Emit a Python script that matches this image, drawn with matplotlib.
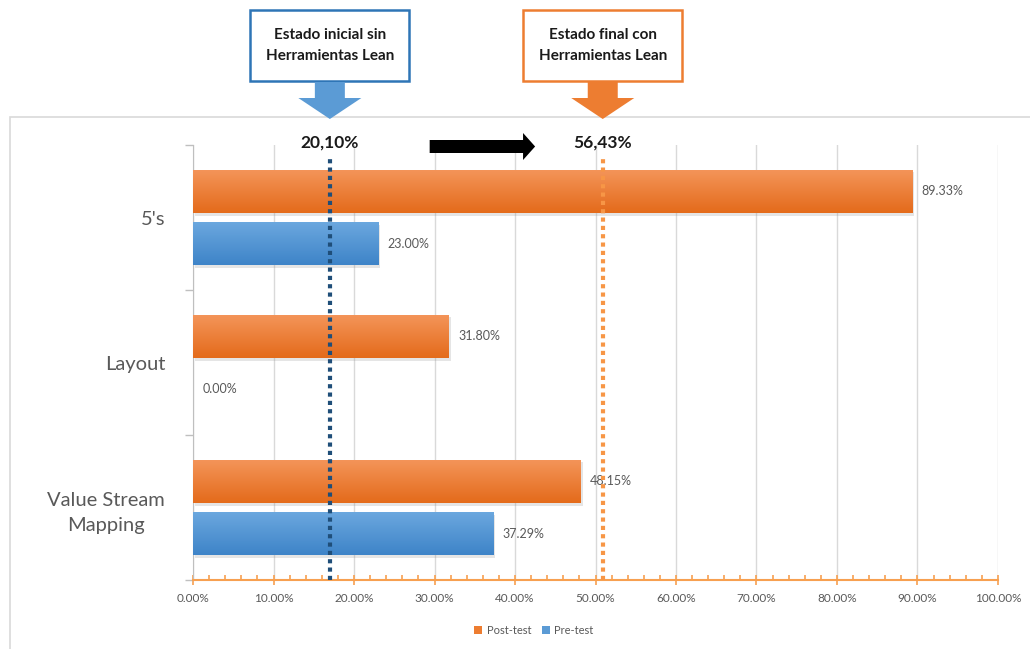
"""
Lean tools: pre-test vs post-test scores per tool.
"""

import matplotlib
matplotlib.use("Agg")
import matplotlib.pyplot as plt
import matplotlib.patheffects as pe
import matplotlib.transforms as mtrans
from matplotlib.colors import LinearSegmentedColormap
from matplotlib.patches import Rectangle, Polygon, Patch
import numpy as np

plt.rcParams["font.family"] = ["Lato", "DejaVu Sans"]

# data
categories = ["5's", "Layout", "Value Stream\nMapping"]
pre_test = [23.00, 0.00, 37.29]
post_test = [89.33, 31.80, 48.15]
x_ticks = [0, 10, 20, 30, 40, 50, 60, 70, 80, 90, 100]
tick_labels = ["0.00%", "10.00%", "20.00%", "30.00%", "40.00%", "50.00%",
               "60.00%", "70.00%", "80.00%", "90.00%", "100.00%"]
initial_line = 17.0
final_line = 50.9
initial_label = "20,10%"
final_label = "56,43%"
initial_box = "Estado inicial sin\nHerramientas Lean"
final_box = "Estado final con\nHerramientas Lean"

W, H = 1030, 649
ORANGE = "#ED7D31"
BLUE = "#5B9BD5"
GRAY_TXT = "#595959"


def fy(py):
    # pixel row -> figure fraction
    return 1 - py / H


def gradient_bars(ax, y, widths, top_col, bot_col, base_col):
    cmap = LinearSegmentedColormap.from_list("g", [top_col, bot_col])
    grad = np.linspace(0, 1, 64).reshape(-1, 1)
    bars = ax.barh(y, widths, height=0.3, color=base_col, zorder=3,
                   path_effects=[pe.SimplePatchShadow(offset=(1.5, -2), shadow_rgbFace="#8c8c8c", alpha=0.22),
                                 pe.Normal()])
    for b in bars:
        if b.get_width() <= 0:
            continue
        x0, y0 = b.get_x(), b.get_y()
        im = ax.imshow(grad, cmap=cmap, aspect="auto", zorder=4,
                       extent=(x0, x0 + b.get_width(), y0 + b.get_height(), y0),
                       origin="upper", interpolation="bicubic")
        im.set_clip_path(b)
    return bars


fig = plt.figure(figsize=(W / 100, H / 100), dpi=100)
ax = fig.add_axes([193 / W, fy(580), 805 / W, 435 / H])

ypos = np.arange(len(categories))
gradient_bars(ax, ypos - 0.18, post_test, "#F4955A", "#E46B1B", ORANGE)
gradient_bars(ax, ypos + 0.18, pre_test, "#6CA8DF", "#3E84C8", BLUE)

for i in range(len(categories)):
    ax.text(post_test[i] + 1.2, ypos[i] - 0.18, f"{post_test[i]:.2f}%", va="center",
            ha="left", fontsize=9, color=GRAY_TXT, zorder=5)
    ax.text(pre_test[i] + 1.2, ypos[i] + 0.18, f"{pre_test[i]:.2f}%", va="center",
            ha="left", fontsize=9, color=GRAY_TXT, zorder=5)

ax.set_xlim(0, 100)
ax.set_ylim(2.5, -0.5)
ax.set_xticks(x_ticks)
ax.set_xticklabels(tick_labels, fontsize=8.5, color=GRAY_TXT)
ax.set_xticks(np.arange(0, 101, 2), minor=True)
ax.set_yticks(ypos)
ax.set_yticklabels(categories, fontsize=14.5, color=GRAY_TXT, multialignment="center",
                   linespacing=1.55)
ax.set_yticks([-0.5, 0.5, 1.5, 2.5], minor=True)

ax.tick_params(axis="y", which="major", length=0, pad=20)
ax.tick_params(axis="y", which="minor", length=6, color="#BFBFBF", width=1)
ax.tick_params(axis="x", which="major", direction="inout", length=7, color="#F7A050", width=1.2, pad=6)
ax.tick_params(axis="x", which="minor", direction="in", length=3.5, color="#F7A050", width=1.2)

ax.grid(axis="x", color="#D9D9D9", linewidth=1, zorder=0)
ax.set_axisbelow(True)
for s in ["top", "right"]:
    ax.spines[s].set_visible(False)
ax.spines["left"].set_color("#BFBFBF")
ax.spines["bottom"].set_color("#F7A050")
ax.spines["bottom"].set_linewidth(1.5)

# reference lines
ax.axvline(initial_line, ymin=0, ymax=0.975, color="#1F4E79", linestyle=(0, (1, 1)),
           linewidth=3, zorder=6)
ax.axvline(final_line, ymin=0, ymax=0.975, color="#F79646", linestyle=(0, (1, 1)),
           linewidth=3, zorder=6)

# chart frame
fig.add_artist(Rectangle((10 / W, -0.01), 1.1, fy(117) + 0.01, transform=fig.transFigure,
                         fill=False, edgecolor="#D9D9D9", linewidth=1.2))

# annotations aligned to the reference lines
bt = mtrans.blended_transform_factory(ax.transData, fig.transFigure)

for xv, label, box, edge, fill in [(initial_line, initial_label, initial_box, "#2E75B6", BLUE),
                                   (final_line, final_label, final_box, ORANGE, ORANGE)]:
    bw = 159 / 8.05  # box width in data units
    fig.add_artist(Rectangle((xv - bw / 2, fy(81)), bw, (81 - 10) / H, transform=bt,
                             facecolor="white", edgecolor=edge, linewidth=1.8))
    fig.text(xv, fy(45.5), box, transform=bt, ha="center", va="center",
             fontsize=11, fontweight="bold", color="#1a1a1a", linespacing=1.65)
    sw, hw = 15 / 8.05, 31.5 / 8.05
    pts = [(xv - sw, fy(82)), (xv + sw, fy(82)), (xv + sw, fy(98)), (xv + hw, fy(98)),
           (xv, fy(119)), (xv - hw, fy(98)), (xv - sw, fy(98))]
    fig.add_artist(Polygon(pts, closed=True, transform=bt, facecolor=fill, edgecolor="none"))
    fig.text(xv, fy(143), label, transform=bt, ha="center", va="center",
             fontsize=12.5, fontweight="bold", color="#1a1a1a")

# black arrow between the two states
x_a0, x_a1, x_tip = 29.4, 41.0, 42.5
arrow = [(x_a0, fy(140)), (x_a1, fy(140)), (x_a1, fy(133)), (x_tip, fy(146.5)),
         (x_a1, fy(160)), (x_a1, fy(153)), (x_a0, fy(153))]
fig.add_artist(Polygon(arrow, closed=True, transform=bt, facecolor="black", edgecolor="none"))

# legend
handles = [Patch(facecolor=ORANGE, label="Post-test"), Patch(facecolor=BLUE, label="Pre-test")]
fig.legend(handles=handles, loc="center", bbox_to_anchor=(534 / W, fy(630)), ncol=2,
           frameon=False, fontsize=8, handlelength=0.7, handleheight=0.7,
           handletextpad=0.4, columnspacing=1.0, labelcolor=GRAY_TXT)

fig.savefig("out.png", dpi=100)
